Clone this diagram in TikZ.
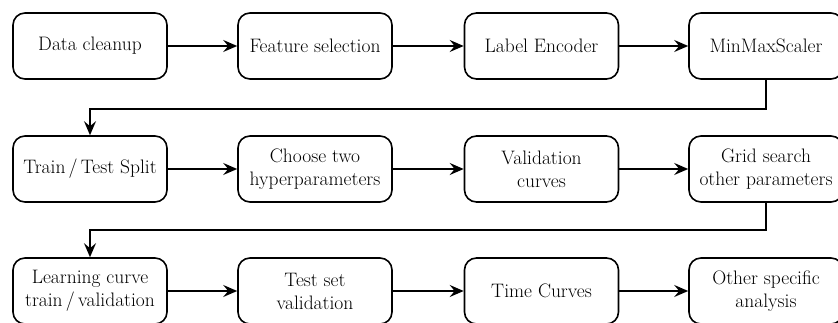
\documentclass[tikz,border=0pt]{standalone}
\usetikzlibrary{arrows.meta}
\begin{document}
\begin{tikzpicture}[x=1pt,y=1pt,
  stepbox/.style={draw, line width=1.6pt, rounded corners=12pt, minimum width=154pt, minimum height=66pt, align=center, inner sep=0pt, font=\fontsize{19.5}{23}\selectfont},
  flow/.style={line width=1.5pt, -{Stealth[length=14pt,width=12pt,inset=5pt]}}]
\useasboundingbox (0,0) rectangle (838,323);
% row 1
\node[stepbox] (a1) at (90,277) {Data cleanup};
\node[stepbox] (a2) at (315,277) {Feature selection};
\node[stepbox] (a3) at (541.5,277) {Label Encoder};
\node[stepbox] (a4) at (766,277) {MinMaxScaler};
% row 2
\node[stepbox] (b1) at (90,154) {Train\,/\,Test Split};
\node[stepbox] (b2) at (315,154) {Choose two\\hyperparameters};
\node[stepbox] (b3) at (541.5,154) {Validation\\curves};
\node[stepbox] (b4) at (766,154) {Grid search\\other parameters};
% row 3
\node[stepbox] (c1) at (90,32) {Learning curve\\train\,/\,validation};
\node[stepbox] (c2) at (315,32) {Test set\\validation};
\node[stepbox] (c3) at (541.5,32) {Time Curves};
\node[stepbox] (c4) at (766,32) {Other specific\\analysis};
\draw[flow] (a1) -- (a2);
\draw[flow] (a2) -- (a3);
\draw[flow] (a3) -- (a4);
\draw[flow] (b1) -- (b2);
\draw[flow] (b2) -- (b3);
\draw[flow] (b3) -- (b4);
\draw[flow] (c1) -- (c2);
\draw[flow] (c2) -- (c3);
\draw[flow] (c3) -- (c4);
\draw[flow] (a4.south) -- ++(0,-29) -| (b1.north);
\draw[flow] (b4.south) -- ++(0,-27) -| (c1.north);
\end{tikzpicture}
\end{document}
